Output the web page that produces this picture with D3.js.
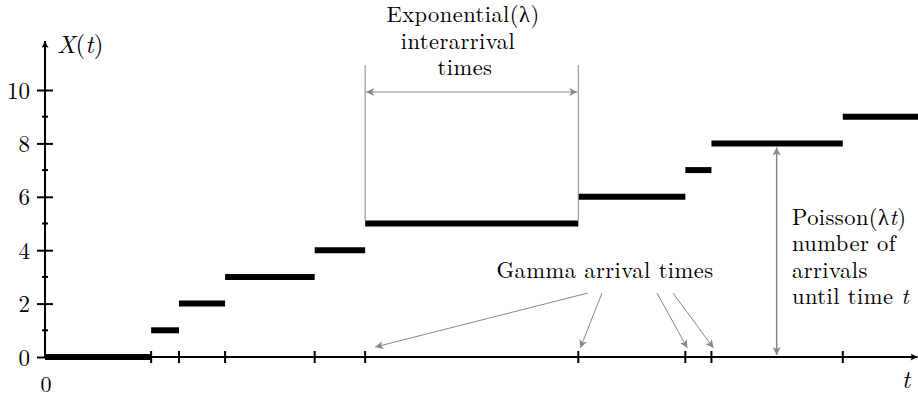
<!DOCTYPE html>
<html>
<head>
<meta charset="utf-8">
<script src="https://cdn.jsdelivr.net/npm/d3@7"></script>
<style>
  body { margin: 0; background: #fff; }
  svg text { font-family: "Latin Modern Roman", "CMU Serif", "Liberation Serif", serif; fill: #000; }
</style>
</head>
<body>
<svg id="chart" width="918" height="398"></svg>
<script>
// arrival times of the Poisson process (t units)
var arrivalTimes = [1.22, 1.54, 2.07, 3.10, 3.68, 6.13, 7.36, 7.66, 9.17];
var counts = [0, 1, 2, 3, 4, 5, 6, 7, 8, 9];
var tEnd = 10.04;
var yMajor = [0, 2, 4, 6, 8, 10];
var yMinor = [1, 3, 5, 7, 9];
// arrivals pointed at by the "Gamma" arrows
var gammaIdx = [4, 5, 6, 7];
var poissonT = 8.41;

var svg = d3.select("#chart");
var x = d3.scaleLinear().domain([0, 10]).range([45, 915]);
var y = d3.scaleLinear().domain([0, 10]).range([357, 90]);

var grey = "#888";
var fs = 22.5;
var ls = "0.45px";
var defs = svg.append("defs");
defs.append("marker").attr("id", "gArrow")
  .attr("viewBox", "0 0 10 10").attr("refX", 10).attr("refY", 5)
  .attr("markerWidth", 11).attr("markerHeight", 8).attr("markerUnits", "userSpaceOnUse")
  .attr("orient", "auto-start-reverse")
  .append("path").attr("d", "M0,0 L10,5 L0,10 L2.5,5 Z").attr("fill", grey);
defs.append("marker").attr("id", "kArrow")
  .attr("viewBox", "0 0 10 10").attr("refX", 10).attr("refY", 5)
  .attr("markerWidth", 9).attr("markerHeight", 7).attr("markerUnits", "userSpaceOnUse")
  .attr("orient", "auto")
  .append("path").attr("d", "M0,0 L10,5 L0,10 L2.5,5 Z").attr("fill", "#000");

// steps
var starts = [0].concat(arrivalTimes);
var ends = arrivalTimes.concat([tEnd]);
var steps = counts.map(function (c, i) { return {c: c, t0: starts[i], t1: ends[i]}; });

// axes
var xAxisG = svg.append("g");
xAxisG.append("line")
  .attr("x1", x(0)).attr("x2", x(tEnd) - 1)
  .attr("y1", y(0)).attr("y2", y(0))
  .attr("stroke", "#000").attr("stroke-width", 2)
  .attr("marker-end", "url(#kArrow)");
xAxisG.selectAll(".xt").data(arrivalTimes).enter().append("line")
  .attr("x1", function (d) { return x(d); }).attr("x2", function (d) { return x(d); })
  .attr("y1", y(0) - 6).attr("y2", y(0) + 6)
  .attr("stroke", "#000").attr("stroke-width", 2);

var yAxis = d3.axisLeft(y).tickValues(yMajor).tickSize(8).tickPadding(4);
var yAxisG = svg.append("g").attr("transform", "translate(" + x(0) + ",0)").call(yAxis);
yAxisG.select(".domain").remove();
yAxisG.selectAll(".tick line").attr("x2", 8).attr("x1", -8).attr("stroke-width", 2);
yAxisG.selectAll(".tick text")
  .attr("font-family", null).attr("font-size", 23).attr("dy", "0.35em").attr("x", -15);
svg.append("line")
  .attr("x1", x(0)).attr("x2", x(0))
  .attr("y1", y(0) + 1).attr("y2", 41)
  .attr("stroke", "#000").attr("stroke-width", 2)
  .attr("marker-end", "url(#kArrow)");
svg.selectAll(".ym").data(yMinor).enter().append("line")
  .attr("x1", x(0) - 3).attr("x2", x(0) + 3)
  .attr("y1", function (d) { return y(d); }).attr("y2", function (d) { return y(d); })
  .attr("stroke", "#000").attr("stroke-width", 2);

// step bars
svg.selectAll(".step").data(steps).enter().append("line")
  .attr("x1", function (d) { return x(d.t0); })
  .attr("x2", function (d) { return x(d.t1); })
  .attr("y1", function (d) { return y(d.c); })
  .attr("y2", function (d) { return y(d.c); })
  .attr("stroke", "#000").attr("stroke-width", 6);

// axis labels
svg.append("text").attr("x", 57).attr("y", 53).attr("font-size", 25)
  .html('<tspan font-style="italic">X</tspan>(<tspan font-style="italic">t</tspan>)');
svg.append("text").attr("x", 46).attr("y", 392).attr("font-size", 22)
  .attr("text-anchor", "middle").text("0");
svg.append("text").attr("x", 906).attr("y", 388).attr("font-size", 25)
  .attr("font-style", "italic").attr("text-anchor", "middle").text("t");

// exponential interarrival annotation
var xa = x(arrivalTimes[4]), xb = x(arrivalTimes[5]);
[xa, xb].forEach(function (v) {
  svg.append("line").attr("x1", v).attr("x2", v)
    .attr("y1", 65).attr("y2", y(counts[5]) - 3)
    .attr("stroke", grey).attr("stroke-width", 1);
});
svg.append("line").attr("x1", xa + 1).attr("x2", xb - 1)
  .attr("y1", 92).attr("y2", 92)
  .attr("stroke", grey).attr("stroke-width", 1)
  .attr("marker-start", "url(#gArrow)").attr("marker-end", "url(#gArrow)");
var expLines = [["Exponential(λ)", 463, 22], ["interarrival", 458, 48.5], ["times", 465, 75]];
expLines.forEach(function (d) {
  svg.append("text").attr("x", d[1]).attr("y", d[2]).attr("font-size", fs)
    .attr("letter-spacing", ls).attr("text-anchor", "middle").text(d[0]);
});

// gamma arrival arrows
svg.append("text").attr("x", 605).attr("y", 278).attr("font-size", fs)
  .attr("letter-spacing", ls).attr("text-anchor", "middle").text("Gamma arrival times");
var gammaFrom = [[588, 293], [602, 293], [657, 293], [673, 293]];
svg.selectAll(".ga").data(gammaIdx).enter().append("line")
  .attr("x1", function (d, i) { return gammaFrom[i][0]; })
  .attr("y1", function (d, i) { return gammaFrom[i][1]; })
  .attr("x2", function (d, i) { return i === 0 ? x(arrivalTimes[d]) + 10 : x(arrivalTimes[d]) + 2; })
  .attr("y2", function (d, i) { return i === 0 ? y(0) - 10 : y(0) - 9; })
  .attr("stroke", grey).attr("stroke-width", 1)
  .attr("marker-end", "url(#gArrow)");

// poisson count arrow
svg.append("line").attr("x1", x(poissonT)).attr("x2", x(poissonT))
  .attr("y1", y(0) - 2).attr("y2", y(counts[8]) + 4)
  .attr("stroke", grey).attr("stroke-width", 1.5)
  .attr("marker-start", "url(#gArrow)").attr("marker-end", "url(#gArrow)");
var poisLines = ["Poisson(λ<tspan font-style='italic'>t</tspan>)", "number of", "arrivals",
  "until time <tspan font-style='italic'>t</tspan>"];
poisLines.forEach(function (d, i) {
  svg.append("text").attr("x", 792).attr("y", 225 + i * 26.3).attr("font-size", fs)
    .attr("letter-spacing", ls).html(d);
});
</script>
</body>
</html>
